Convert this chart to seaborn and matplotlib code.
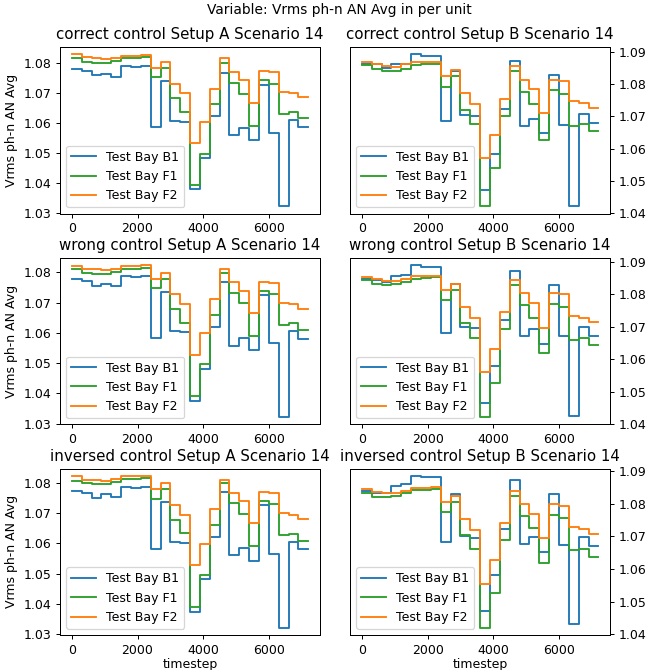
import numpy as np
import pandas as pd
import matplotlib
matplotlib.use("Agg")
import matplotlib.pyplot as plt
import seaborn as sns

# timesteps (one value every 300 steps)
timesteps = np.arange(0, 7500, 300)
bays = ["Test Bay B1", "Test Bay F1", "Test Bay F2"]
colors = {"Test Bay B1": "tab:blue", "Test Bay F1": "tab:green", "Test Bay F2": "tab:orange"}

# correct control, setup A
cA_b1 = [1.0783, 1.0776, 1.0760, 1.0765, 1.0756, 1.0790, 1.0787, 1.0790, 1.0587, 1.0741, 1.0607, 1.0605,
         1.0380, 1.0485, 1.0623, 1.0768, 1.0561, 1.0585, 1.0543, 1.0727, 1.0568, 1.0323, 1.0610, 1.0586]
cA_f1 = [1.0818, 1.0805, 1.0801, 1.0801, 1.0807, 1.0818, 1.0818, 1.0821, 1.0754, 1.0785, 1.0683, 1.0637,
         1.0394, 1.0498, 1.0663, 1.0800, 1.0734, 1.0698, 1.0590, 1.0743, 1.0730, 1.0632, 1.0638, 1.0616]
cA_f2 = [1.0830, 1.0821, 1.0818, 1.0814, 1.0818, 1.0826, 1.0826, 1.0828, 1.0785, 1.0804, 1.0732, 1.0700,
         1.0533, 1.0605, 1.0715, 1.0818, 1.0772, 1.0743, 1.0668, 1.0774, 1.0771, 1.0705, 1.0702, 1.0687]

# correct control, setup B
cB_b1 = [1.0862, 1.0862, 1.0851, 1.0864, 1.0862, 1.0893, 1.0889, 1.0889, 1.0686, 1.0840, 1.0704, 1.0700,
         1.0470, 1.0582, 1.0724, 1.0874, 1.0669, 1.0692, 1.0648, 1.0830, 1.0673, 1.0422, 1.0706, 1.0679]
cB_f1 = [1.0860, 1.0847, 1.0843, 1.0843, 1.0848, 1.0860, 1.0862, 1.0864, 1.0793, 1.0826, 1.0721, 1.0675,
         1.0421, 1.0538, 1.0701, 1.0841, 1.0776, 1.0739, 1.0628, 1.0781, 1.0770, 1.0669, 1.0675, 1.0654]
cB_f2 = [1.0871, 1.0862, 1.0857, 1.0855, 1.0862, 1.0868, 1.0868, 1.0871, 1.0826, 1.0845, 1.0772, 1.0739,
         1.0570, 1.0641, 1.0755, 1.0857, 1.0814, 1.0785, 1.0710, 1.0814, 1.0810, 1.0747, 1.0741, 1.0726]

# wrong control, setup A
wA_b1 = [1.0778, 1.0771, 1.0753, 1.0761, 1.0753, 1.0789, 1.0784, 1.0787, 1.0584, 1.0736, 1.0606, 1.0603,
         1.0374, 1.0482, 1.0620, 1.0767, 1.0558, 1.0584, 1.0543, 1.0725, 1.0565, 1.0323, 1.0605, 1.0581]
wA_f1 = [1.0811, 1.0798, 1.0794, 1.0794, 1.0802, 1.0811, 1.0812, 1.0815, 1.0747, 1.0779, 1.0678, 1.0634,
         1.0390, 1.0496, 1.0659, 1.0798, 1.0733, 1.0697, 1.0588, 1.0738, 1.0727, 1.0626, 1.0634, 1.0609]
wA_f2 = [1.0820, 1.0812, 1.0810, 1.0807, 1.0811, 1.0822, 1.0822, 1.0823, 1.0779, 1.0799, 1.0727, 1.0696,
         1.0527, 1.0600, 1.0711, 1.0811, 1.0769, 1.0739, 1.0665, 1.0769, 1.0766, 1.0700, 1.0696, 1.0680]

# wrong control, setup B
wB_b1 = [1.0847, 1.0845, 1.0839, 1.0857, 1.0859, 1.0890, 1.0886, 1.0884, 1.0681, 1.0832, 1.0700, 1.0696,
         1.0467, 1.0579, 1.0721, 1.0872, 1.0671, 1.0693, 1.0648, 1.0828, 1.0671, 1.0425, 1.0700, 1.0671]
wB_f1 = [1.0845, 1.0832, 1.0830, 1.0832, 1.0838, 1.0849, 1.0850, 1.0853, 1.0783, 1.0814, 1.0712, 1.0666,
         1.0423, 1.0528, 1.0693, 1.0830, 1.0767, 1.0729, 1.0621, 1.0772, 1.0760, 1.0661, 1.0665, 1.0644]
wB_f2 = [1.0855, 1.0847, 1.0843, 1.0842, 1.0849, 1.0856, 1.0857, 1.0858, 1.0814, 1.0832, 1.0760, 1.0728,
         1.0560, 1.0632, 1.0745, 1.0845, 1.0804, 1.0775, 1.0698, 1.0804, 1.0800, 1.0735, 1.0729, 1.0715]

# inversed control, setup A
iA_b1 = [1.0773, 1.0766, 1.0751, 1.0762, 1.0754, 1.0786, 1.0784, 1.0786, 1.0582, 1.0735, 1.0604, 1.0601,
         1.0374, 1.0483, 1.0620, 1.0768, 1.0560, 1.0585, 1.0542, 1.0726, 1.0565, 1.0322, 1.0604, 1.0580]
iA_f1 = [1.0806, 1.0798, 1.0797, 1.0797, 1.0804, 1.0813, 1.0813, 1.0815, 1.0746, 1.0778, 1.0677, 1.0634,
         1.0391, 1.0496, 1.0660, 1.0800, 1.0733, 1.0698, 1.0590, 1.0740, 1.0729, 1.0627, 1.0632, 1.0609]
iA_f2 = [1.0821, 1.0810, 1.0810, 1.0806, 1.0812, 1.0821, 1.0821, 1.0822, 1.0780, 1.0798, 1.0726, 1.0695,
         1.0527, 1.0598, 1.0712, 1.0810, 1.0767, 1.0740, 1.0668, 1.0768, 1.0765, 1.0701, 1.0695, 1.0680]

# inversed control, setup B
iB_b1 = [1.0838, 1.0834, 1.0834, 1.0855, 1.0860, 1.0885, 1.0882, 1.0882, 1.0682, 1.0829, 1.0700, 1.0695,
         1.0470, 1.0581, 1.0723, 1.0873, 1.0677, 1.0698, 1.0653, 1.0829, 1.0674, 1.0431, 1.0699, 1.0669]
iB_f1 = [1.0834, 1.0821, 1.0821, 1.0824, 1.0832, 1.0842, 1.0843, 1.0845, 1.0775, 1.0807, 1.0705, 1.0661,
         1.0420, 1.0527, 1.0690, 1.0824, 1.0762, 1.0726, 1.0619, 1.0767, 1.0756, 1.0657, 1.0662, 1.0638]
iB_f2 = [1.0844, 1.0837, 1.0834, 1.0833, 1.0840, 1.0847, 1.0848, 1.0850, 1.0805, 1.0824, 1.0753, 1.0721,
         1.0555, 1.0628, 1.0740, 1.0838, 1.0798, 1.0769, 1.0694, 1.0798, 1.0793, 1.0730, 1.0724, 1.0708]

panels = [
    ("correct control Setup A Scenario 14", [cA_b1, cA_f1, cA_f2]),
    ("correct control Setup B Scenario 14", [cB_b1, cB_f1, cB_f2]),
    ("wrong control Setup A Scenario 14", [wA_b1, wA_f1, wA_f2]),
    ("wrong control Setup B Scenario 14", [wB_b1, wB_f1, wB_f2]),
    ("inversed control Setup A Scenario 14", [iA_b1, iA_f1, iA_f2]),
    ("inversed control Setup B Scenario 14", [iB_b1, iB_f1, iB_f2]),
]

DPI = 90
fig, axes = plt.subplots(3, 2, figsize=(652 / DPI, 670 / DPI), dpi=DPI)
fig.subplots_adjust(left=0.092, right=0.936, top=0.930, bottom=0.052, wspace=0.115, hspace=0.265)

for i, (title, series) in enumerate(panels):
    ax = axes.flat[i]
    frames = []
    for bay, vals in zip(bays, series):
        # repeat the last value so the final step is drawn up to 7200
        v = list(vals) + [vals[-1]]
        frames.append(pd.DataFrame({"timestep": timesteps, "value": v, "bay": bay}))
    df = pd.concat(frames, ignore_index=True)

    sns.lineplot(data=df, x="timestep", y="value", hue="bay", hue_order=bays,
                 palette=colors, drawstyle="steps-post", ax=ax)
    sns.move_legend(ax, "lower left", title=None)
    ax.set_title(title)
    ax.set_xticks([0, 2000, 4000, 6000])

    if i % 2 == 0:
        ax.set_ylabel("Vrms ph-n AN Avg")
    else:
        ax.set_ylabel("")
        ax.yaxis.tick_right()
    if i >= 4:
        ax.set_xlabel("timestep", labelpad=1)
    else:
        ax.set_xlabel("")

fig.suptitle("Variable: Vrms ph-n AN Avg in per unit", fontsize=11, x=0.52, y=0.995)
fig.savefig("out.png", dpi=DPI)
